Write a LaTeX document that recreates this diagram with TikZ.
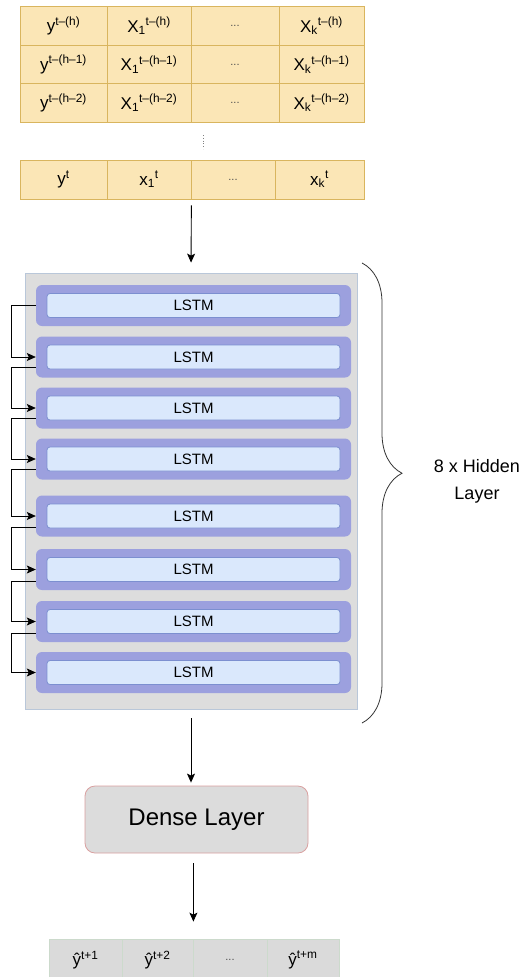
\documentclass[tikz,border=0pt]{standalone}
\usepackage{fontspec}
\setmainfont{Liberation Sans}
\usetikzlibrary{arrows.meta,decorations.pathreplacing}
\definecolor{tabfill}{HTML}{FBE6B6}
\definecolor{tabline}{HTML}{D9B55E}
\definecolor{hidfill}{HTML}{DDDDDD}
\definecolor{hidline}{HTML}{B9C7D9}
\definecolor{lstmout}{HTML}{9CA0DE}
\definecolor{lstmin}{HTML}{DAE8FC}
\definecolor{lstmline}{HTML}{7C8FD0}
\definecolor{densefill}{HTML}{DCDCDC}
\definecolor{denseline}{HTML}{D9A0A0}
\definecolor{outfill}{HTML}{DADADA}
\definecolor{outline}{HTML}{CCDACC}
\newcommand{\dotsx}{{\fontsize{11}{13}\selectfont\color{black!70}...}}

\begin{document}
\begin{tikzpicture}
[x=1pt,y=-1pt,
cell/.style={draw=tabline,fill=tabfill,line width=0.8pt,minimum height=38.5,inner sep=0pt,font=\fontsize{17}{20}\selectfont},
ocell/.style={draw=outline,fill=outfill,line width=0.8pt,minimum height=42,inner sep=0pt,font=\fontsize{17}{20}\selectfont},
lstmo/.style={fill=lstmout,rounded corners=6pt,minimum width=315,minimum height=41,inner sep=0pt},
lstmi/.style={draw=lstmline,fill=lstmin,line width=0.8pt,rounded corners=3pt,minimum width=293,minimum height=24,inner sep=0pt,font=\fontsize{15}{18}\selectfont},
arr/.style={-{Stealth[length=9pt,width=8pt,inset=2pt]},line width=0.9pt},
back/.style={-{Stealth[length=9pt,width=8pt,inset=2pt]},line width=0.8pt}]
\useasboundingbox (0,0) rectangle (523,977);
\clip (0,0) rectangle (523,977);
% input window
\foreach \r/\y/\s in {1/26/(h),2/64.5/(h–1),3/103/(h–2)} {
\node[cell,minimum width=87] (y\r) at (63.5,\y) {y\textsuperscript{t–\s}};
\node[cell,minimum width=84] (xa\r) at (149,\y) {X\textsubscript{1}\textsuperscript{t–\s}};
\node[cell,minimum width=88] (d\r) at (235,\y) {\dotsx};
\node[cell,minimum width=85] (xk\r) at (321.5,\y) {X\textsubscript{k}\textsuperscript{t–\s}};
}
\draw[dotted,line width=0.8pt,black!50] (203,135) -- (203,149);
\node[cell,minimum width=87,minimum height=39] (yt) at (63.5,179.5) {y\textsuperscript{t}};
\node[cell,minimum width=84,minimum height=39] (xat) at (149,179.5) {x\textsubscript{1}\textsuperscript{t}};
\node[cell,minimum width=84,minimum height=39] (dt) at (233,179.5) {\dotsx};
\node[cell,minimum width=89,minimum height=39] (xkt) at (319.5,179.5) {x\textsubscript{k}\textsuperscript{t}};
% hidden layers
\node[draw=hidline,fill=hidfill,line width=0.8pt,minimum width=332,minimum height=436,inner sep=0pt] (hid) at (191,491) {};
\draw[arr,shorten <=6,shorten >=10] (xat.south east) -- (hid.north);
\foreach \i/\y in {1/305.5,2/357,3/408,4/459,5/516,6/569.5,7/621.5,8/672.5} {
\node[lstmo] (o\i) at (193.5,\y) {};
\node[lstmi] (l\i) at (193.5,\y) {LSTM};
}
\foreach \a/\b/\d in {1/2/0,2/3/10,3/4/10,4/5/10,5/6/11,6/7/12,7/8/12}
\draw[back] ([yshift=-\d pt]o\a.west) -- ++(-24,0) |- (o\b.west);
\draw[decorate,decoration={brace,amplitude=40pt,aspect=0.457},line width=0.8pt,black!80] (362,263) -- (362,723);
\node[align=center,font=\fontsize{18}{27}\selectfont] (hl) at (477,481) {8 x Hidden\\Layer};
% dense + output
\node[draw=denseline,fill=densefill,line width=0.8pt,rounded corners=10pt,minimum width=223,minimum height=67,inner sep=0pt,font=\fontsize{24}{28}\selectfont] (dl) at (196.5,819.5) {Dense Layer};
\draw[arr,shorten <=9,shorten >=3] (hid.south) -- (hid.south |- dl.north);
\node[ocell,minimum width=73] (p1) at (85.5,960) {ŷ\textsuperscript{t+1}};
\node[ocell,minimum width=71] (p2) at (157.5,960) {ŷ\textsuperscript{t+2}};
\node[ocell,minimum width=74] (p3) at (230,960) {\dotsx};
\node[ocell,minimum width=72] (p4) at (303,960) {ŷ\textsuperscript{t+m}};
\draw[arr,shorten <=10,shorten >=17] (p2.north east |- dl.south) -- (p2.north east);
\end{tikzpicture}
\end{document}
